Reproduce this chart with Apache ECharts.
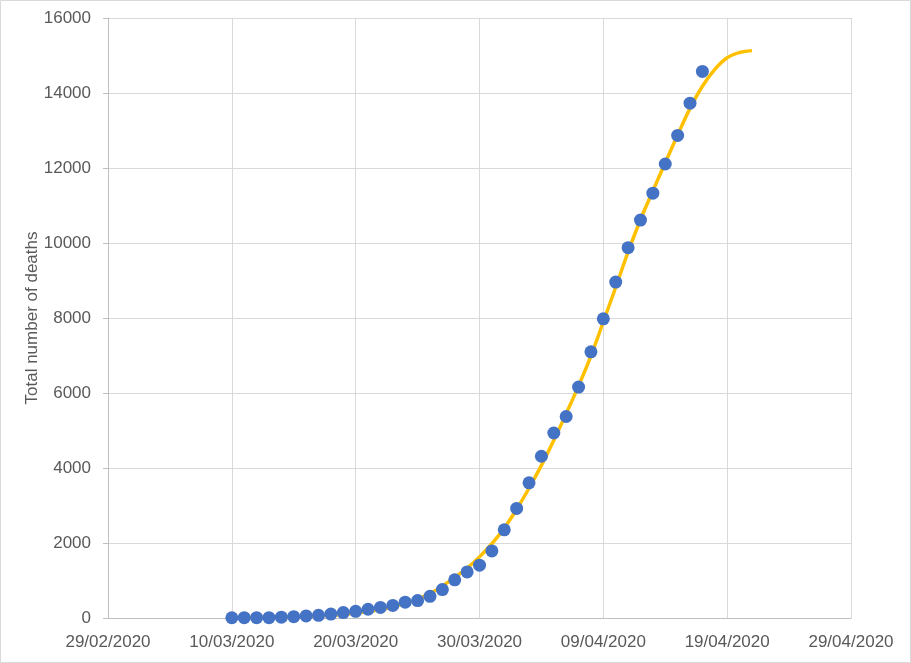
<!DOCTYPE html>
<html>
<head>
<meta charset="utf-8">
<script src="https://cdn.jsdelivr.net/npm/echarts@6/dist/echarts.min.js"></script>
<style>
html,body{margin:0;padding:0;background:#fff;}
#c{width:911px;height:663px;}
</style>
</head>
<body>
<div id="c"></div>
<script>
// Day offsets are counted from 29/02/2020 (day 0)
const xTickLabels = ['29/02/2020','10/03/2020','20/03/2020','30/03/2020','09/04/2020','19/04/2020','29/04/2020'];
const yTicks = [0,2000,4000,6000,8000,10000,12000,14000,16000];

// Observed total deaths, daily from 10/03/2020 (day 10) to 17/04/2020 (day 48)
const observedStartDay = 10;
const observedDeaths = [6, 8, 8, 10, 21, 35, 55, 71, 104, 144, 177,
  233, 281, 335, 422, 465, 578, 759, 1019, 1228, 1408, 1789,
  2352, 2921, 3605, 4313, 4934, 5373, 6159, 7097, 7978, 8958,
  9875, 10612, 11329, 12107, 12868, 13729, 14576];

// Fitted curve, daily from 10/03/2020 (day 10) to 21/04/2020 (day 52)
const fitStartDay = 10;
const fitDeaths = [5, 7, 10, 14, 19, 27, 37, 51, 70, 95, 128,
  172, 228, 300, 390, 500, 650, 850, 1080, 1330, 1630, 1980,
  2400, 2900, 3460, 4070, 4740, 5450, 6190, 6990, 7900, 8820,
  9760, 10620, 11390, 12140, 12880, 13590, 14180, 14630, 14940, 15080, 15130];

const obsData = observedDeaths.map((v,i)=>[observedStartDay+i, v]);
const fitData = fitDeaths.map((v,i)=>[fitStartDay+i, v]);

const labelFont = "'Liberation Sans',Arial,sans-serif";
const chart = echarts.init(document.getElementById('c'), null, {renderer:'canvas'});
chart.setOption({
  animation:false,
  backgroundColor:'#fff',
  grid:{left:108, right:60, top:18, bottom:45, containLabel:false},
  graphic:[{type:'rect', shape:{x:0.5,y:0.5,width:910,height:662}, style:{fill:null, stroke:'#D9D9D9', lineWidth:1}, silent:true, z:-10}],
  xAxis:{
    type:'value', min:0, max:60, interval:10,
    axisLine:{show:true, lineStyle:{color:'#BFBFBF', width:1}},
    axisTick:{show:false},
    splitLine:{show:true, lineStyle:{color:'#D9D9D9', width:1}},
    axisLabel:{color:'#595959', fontSize:17, fontFamily:labelFont, margin:16,
      formatter:v=>xTickLabels[Math.round(v/10)] || ''}
  },
  yAxis:{
    type:'value', min:yTicks[0], max:yTicks[yTicks.length-1], interval:2000,
    name:'Total number of deaths', nameLocation:'middle', nameGap:67, nameRotate:90,
    nameMoveOverlap:false,
    nameTextStyle:{color:'#595959', fontSize:17, fontFamily:labelFont},
    axisLine:{show:true, lineStyle:{color:'#BFBFBF', width:1}},
    axisTick:{show:true, inside:false, length:5, lineStyle:{color:'#BFBFBF'}},
    splitLine:{show:true, lineStyle:{color:'#D9D9D9', width:1}},
    axisLabel:{color:'#595959', fontSize:17, fontFamily:labelFont, margin:17,
      formatter:v=>String(v)}
  },
  series:[
    {type:'line', data:fitData, smooth:0.4, showSymbol:false, symbol:'none',
      lineStyle:{color:'#FFC000', width:3.5}, z:2},
    {type:'scatter', data:obsData, symbol:'circle', symbolSize:13,
      itemStyle:{color:'#4472C4', opacity:1}, z:3}
  ]
});
</script>
</body>
</html>
